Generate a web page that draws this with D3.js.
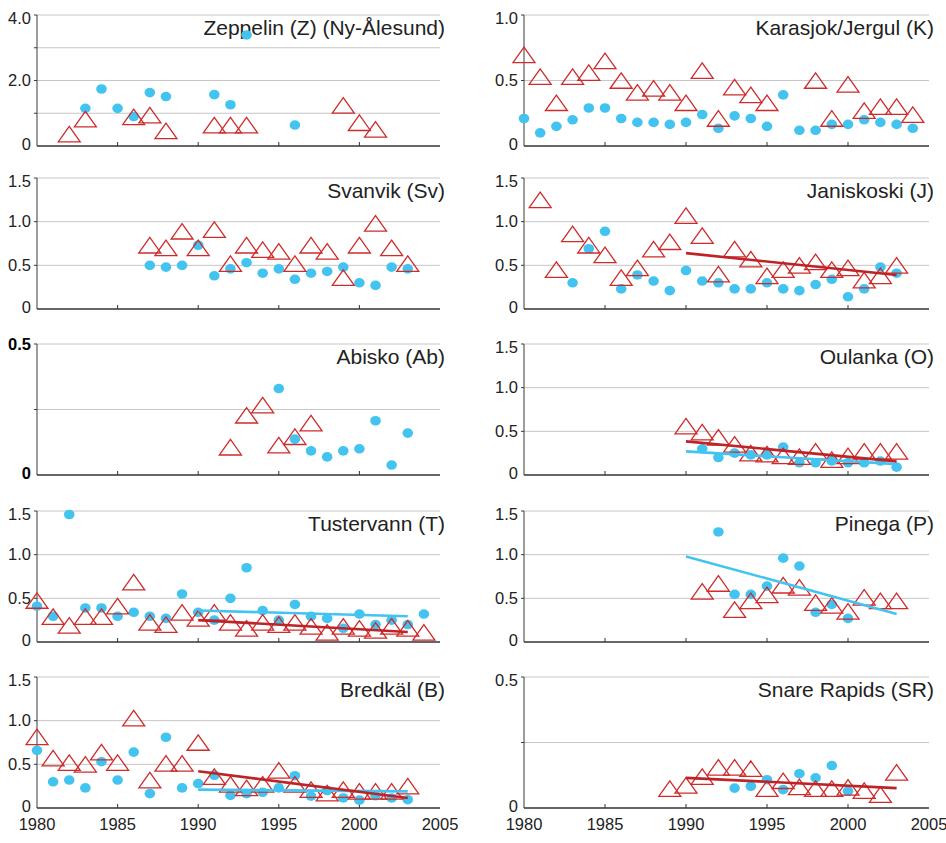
<!DOCTYPE html>
<html>
<head>
<meta charset="utf-8">
<script src="https://cdn.jsdelivr.net/npm/d3@7"></script>
<style>
  body { margin: 0; background: #fff; }
  svg text { font-family: "Liberation Sans", Arial, sans-serif; fill: #222; }
</style>
</head>
<body>
<div id="chart"></div>
<script>
// ---- data: [year, value] pairs ----
const xTickYears = [1980, 1985, 1990, 1995, 2000, 2005];

const zeppelinCircles = [[1983, 1.15], [1984, 1.74], [1985, 1.15], [1986, 0.9], [1987, 1.63], [1988, 1.51],
  [1991, 1.57], [1992, 1.26], [1993, 3.39], [1996, 0.64]];
const zeppelinTriangles = [[1982, 0.36], [1983, 0.82], [1986, 0.89], [1987, 0.94], [1988, 0.46],
  [1991, 0.64], [1992, 0.64], [1993, 0.64], [1999, 1.24], [2000, 0.71], [2001, 0.51]];

const karasjokCircles = [[1980, 0.21], [1981, 0.10], [1982, 0.15], [1983, 0.20], [1984, 0.29], [1985, 0.29],
  [1986, 0.21], [1987, 0.18], [1988, 0.18], [1989, 0.165], [1990, 0.18], [1991, 0.24], [1992, 0.135],
  [1993, 0.23], [1994, 0.21], [1995, 0.15], [1996, 0.39], [1997, 0.12], [1998, 0.12], [1999, 0.165],
  [2000, 0.165], [2001, 0.20], [2002, 0.18], [2003, 0.165], [2004, 0.135]];
const karasjokTriangles = [[1980, 0.695], [1981, 0.53], [1982, 0.33], [1983, 0.53], [1984, 0.56], [1985, 0.65],
  [1986, 0.50], [1987, 0.41], [1988, 0.44], [1989, 0.41], [1990, 0.33], [1991, 0.575], [1992, 0.21],
  [1993, 0.45], [1994, 0.39], [1995, 0.33], [1998, 0.50], [1999, 0.21], [2000, 0.47], [2001, 0.27],
  [2002, 0.30], [2003, 0.30], [2004, 0.24]];

const svanvikCircles = [[1987, 0.50], [1988, 0.48], [1989, 0.50], [1990, 0.73], [1991, 0.38], [1992, 0.46],
  [1993, 0.53], [1994, 0.41], [1995, 0.46], [1996, 0.34], [1997, 0.41], [1998, 0.43], [1999, 0.48],
  [2000, 0.30], [2001, 0.27], [2002, 0.48], [2003, 0.46]];
const svanvikTriangles = [[1987, 0.73], [1988, 0.70], [1989, 0.89], [1990, 0.70], [1991, 0.91], [1992, 0.52],
  [1993, 0.73], [1994, 0.68], [1995, 0.66], [1996, 0.52], [1997, 0.73], [1998, 0.66], [1999, 0.36],
  [2000, 0.73], [2001, 0.98], [2002, 0.70], [2003, 0.52]];

const janiskoskiCircles = [[1983, 0.30], [1984, 0.69], [1985, 0.89], [1986, 0.23], [1987, 0.39], [1988, 0.32],
  [1989, 0.21], [1990, 0.44], [1991, 0.32], [1992, 0.30], [1993, 0.23], [1994, 0.23], [1995, 0.30],
  [1996, 0.23], [1997, 0.21], [1998, 0.28], [1999, 0.34], [2000, 0.14], [2001, 0.23], [2002, 0.48], [2003, 0.41]];
const janiskoskiTriangles = [[1981, 1.25], [1982, 0.45], [1983, 0.86], [1984, 0.73], [1985, 0.62], [1986, 0.36],
  [1987, 0.47], [1988, 0.685], [1989, 0.77], [1990, 1.07], [1991, 0.84], [1992, 0.40], [1993, 0.685],
  [1994, 0.57], [1995, 0.38], [1996, 0.45], [1997, 0.50], [1998, 0.54], [1999, 0.45], [2000, 0.47],
  [2001, 0.33], [2002, 0.38], [2003, 0.50]];
const janiskoskiRedTrend = [[1990, 0.64], [2003, 0.39]];

const abiskoCircles = [[1995, 0.33], [1996, 0.137], [1997, 0.092], [1998, 0.069], [1999, 0.092], [2000, 0.10],
  [2001, 0.207], [2002, 0.038], [2003, 0.16]];
const abiskoTriangles = [[1992, 0.106], [1993, 0.228], [1994, 0.267], [1995, 0.114], [1996, 0.146], [1997, 0.198]];

const oulankaCircles = [[1991, 0.30], [1992, 0.20], [1993, 0.25], [1994, 0.23], [1995, 0.23], [1996, 0.32],
  [1997, 0.14], [1998, 0.14], [1999, 0.16], [2000, 0.14], [2001, 0.14], [2002, 0.16], [2003, 0.09]];
const oulankaTriangles = [[1990, 0.56], [1991, 0.49], [1992, 0.43], [1993, 0.35], [1994, 0.25], [1995, 0.24],
  [1996, 0.22], [1997, 0.21], [1998, 0.27], [1999, 0.175], [2000, 0.22], [2001, 0.27], [2002, 0.27], [2003, 0.27]];
const oulankaRedTrend = [[1990, 0.385], [2003, 0.156]];
const oulankaBlueTrend = [[1990, 0.27], [2003, 0.125]];

const tustervannCircles = [[1980, 0.41], [1981, 0.295], [1982, 1.46], [1983, 0.39], [1984, 0.39], [1985, 0.295],
  [1986, 0.34], [1987, 0.295], [1988, 0.27], [1989, 0.55], [1990, 0.34], [1991, 0.25], [1992, 0.50],
  [1993, 0.85], [1994, 0.36], [1995, 0.25], [1996, 0.43], [1997, 0.295], [1998, 0.27], [1999, 0.157],
  [2000, 0.32], [2001, 0.20], [2002, 0.25], [2003, 0.20], [2004, 0.32]];
const tustervannTriangles = [[1980, 0.475], [1981, 0.29], [1982, 0.19], [1983, 0.29], [1984, 0.29], [1985, 0.41],
  [1986, 0.685], [1987, 0.225], [1988, 0.20], [1989, 0.34], [1990, 0.27], [1991, 0.34], [1992, 0.225],
  [1993, 0.157], [1994, 0.225], [1995, 0.20], [1996, 0.225], [1997, 0.18], [1998, 0.11], [1999, 0.18],
  [2000, 0.157], [2001, 0.134], [2002, 0.18], [2003, 0.157], [2004, 0.11]];
const tustervannRedTrend = [[1990, 0.25], [2003, 0.115]];
const tustervannBlueTrend = [[1990, 0.36], [2003, 0.295]];

const pinegaCircles = [[1992, 1.26], [1993, 0.545], [1994, 0.545], [1995, 0.64], [1996, 0.96], [1997, 0.87],
  [1998, 0.34], [1999, 0.43], [2000, 0.27]];
const pinegaTriangles = [[1991, 0.58], [1992, 0.67], [1993, 0.37], [1994, 0.47], [1995, 0.54], [1996, 0.65],
  [1997, 0.625], [1998, 0.45], [1999, 0.42], [2000, 0.35], [2001, 0.51], [2002, 0.47], [2003, 0.47]];
const pinegaBlueTrend = [[1990, 0.98], [2003, 0.32]];

const bredkalCircles = [[1980, 0.66], [1981, 0.30], [1982, 0.32], [1983, 0.23], [1984, 0.53], [1985, 0.32],
  [1986, 0.64], [1987, 0.165], [1988, 0.81], [1989, 0.23], [1990, 0.28], [1991, 0.375], [1992, 0.145],
  [1993, 0.165], [1994, 0.18], [1995, 0.23], [1996, 0.37], [1997, 0.135], [1998, 0.20], [1999, 0.115],
  [2000, 0.09], [2001, 0.14], [2002, 0.115], [2003, 0.095]];
const bredkalTriangles = [[1980, 0.815], [1981, 0.57], [1982, 0.52], [1983, 0.50], [1984, 0.64], [1985, 0.52],
  [1986, 1.03], [1987, 0.32], [1988, 0.51], [1989, 0.51], [1990, 0.75], [1991, 0.36], [1992, 0.27],
  [1993, 0.23], [1994, 0.27], [1995, 0.43], [1996, 0.27], [1997, 0.21], [1998, 0.17], [1999, 0.21],
  [2000, 0.19], [2001, 0.19], [2002, 0.19], [2003, 0.25]];
const bredkalRedTrend = [[1990, 0.42], [2003, 0.115]];
const bredkalBlueTrend = [[1990, 0.21], [2003, 0.19]];

const snareCircles = [[1993, 0.076], [1994, 0.083], [1995, 0.108], [1996, 0.07], [1997, 0.131], [1998, 0.115],
  [1999, 0.162], [2000, 0.064]];
const snareTriangles = [[1989, 0.074], [1990, 0.086], [1991, 0.12], [1992, 0.155], [1993, 0.155], [1994, 0.15],
  [1995, 0.074], [1996, 0.104], [1997, 0.081], [1998, 0.074], [1999, 0.074], [2000, 0.079], [2001, 0.066],
  [2002, 0.051], [2003, 0.136]];
const snareRedTrend = [[1990, 0.115], [2003, 0.076]];

// ---- layout ----
const WIDTH = 946;
const HEIGHT = 843;
const COLUMNS = [{ left: 37, right: 440 }, { left: 524, right: 929 }];
const ROW_TOPS = [15, 178, 344, 511, 677];
const PANEL_HEIGHT = 131;

const BLUE = "#43c4f0";
const RED = "#cf2b2b";
const RED_TREND = "#bd2327";

const panels = [
  { title: "Zeppelin (Z) (Ny-Ålesund)", col: 0, row: 0, yMax: 4, grid: [1, 2, 3, 4], labels: [0, 2, 4],
    circles: zeppelinCircles, triangles: zeppelinTriangles },
  { title: "Karasjok/Jergul (K)", col: 1, row: 0, yMax: 1, grid: [0.5, 1], labels: [0, 0.5, 1],
    circles: karasjokCircles, triangles: karasjokTriangles },
  { title: "Svanvik (Sv)", col: 0, row: 1, yMax: 1.5, grid: [0.5, 1, 1.5], labels: [0, 0.5, 1, 1.5],
    circles: svanvikCircles, triangles: svanvikTriangles },
  { title: "Janiskoski (J)", col: 1, row: 1, yMax: 1.5, grid: [0.5, 1, 1.5], labels: [0, 0.5, 1, 1.5],
    circles: janiskoskiCircles, triangles: janiskoskiTriangles, redTrend: janiskoskiRedTrend },
  { title: "Abisko (Ab)", col: 0, row: 2, yMax: 0.5, grid: [0.25, 0.5], labels: [0, 0.5], boldLabels: true,
    circles: abiskoCircles, triangles: abiskoTriangles },
  { title: "Oulanka (O)", col: 1, row: 2, yMax: 1.5, grid: [0.5, 1, 1.5], labels: [0, 0.5, 1, 1.5],
    circles: oulankaCircles, triangles: oulankaTriangles, redTrend: oulankaRedTrend, blueTrend: oulankaBlueTrend },
  { title: "Tustervann (T)", col: 0, row: 3, yMax: 1.5, grid: [0.5, 1, 1.5], labels: [0, 0.5, 1, 1.5],
    circles: tustervannCircles, triangles: tustervannTriangles, redTrend: tustervannRedTrend, blueTrend: tustervannBlueTrend },
  { title: "Pinega (P)", col: 1, row: 3, yMax: 1.5, grid: [0.5, 1, 1.5], labels: [0, 0.5, 1, 1.5],
    circles: pinegaCircles, triangles: pinegaTriangles, blueTrend: pinegaBlueTrend },
  { title: "Bredkäl (B)", col: 0, row: 4, yMax: 1.5, grid: [0.5, 1, 1.5], labels: [0, 0.5, 1, 1.5],
    circles: bredkalCircles, triangles: bredkalTriangles, redTrend: bredkalRedTrend, blueTrend: bredkalBlueTrend },
  { title: "Snare Rapids (SR)", col: 1, row: 4, yMax: 0.5, grid: [0.25, 0.5], labels: [0, 0.5],
    circles: snareCircles, triangles: snareTriangles, redTrend: snareRedTrend }
];

const svg = d3.select("#chart")
  .append("svg")
  .attr("width", WIDTH)
  .attr("height", HEIGHT);

const lastRow = d3.max(panels, (p) => p.row);
const fmt = (v) => (v === 0 ? "0" : d3.format(".1f")(v));

function trianglePath(cx, cy) {
  const hw = 11, hh = 7.75;
  return `M${cx - hw},${cy + hh}L${cx},${cy - hh}L${cx + hw},${cy + hh}Z`;
}

panels.forEach((p) => {
  const c = COLUMNS[p.col];
  const top = ROW_TOPS[p.row];
  const bottom = top + PANEL_HEIGHT;

  const x = d3.scaleLinear().domain([1980, 2005]).range([c.left, c.right]);
  const y = d3.scaleLinear().domain([0, p.yMax]).range([bottom, top]);

  const g = svg.append("g").attr("class", "panel");

  // gridlines
  g.selectAll(".grid")
    .data(p.grid)
    .join("line")
    .attr("x1", c.left)
    .attr("x2", c.right)
    .attr("y1", (d) => y(d))
    .attr("y2", (d) => y(d))
    .attr("stroke", "#c6c6c6")
    .attr("stroke-width", 1);

  // y axis + small outward ticks
  g.append("line")
    .attr("x1", c.left).attr("x2", c.left)
    .attr("y1", top).attr("y2", bottom)
    .attr("stroke", "#3a3a3a").attr("stroke-width", 1);

  g.selectAll(".ytick")
    .data(p.grid)
    .join("line")
    .attr("x1", c.left - 3).attr("x2", c.left)
    .attr("y1", (d) => y(d)).attr("y2", (d) => y(d))
    .attr("stroke", "#3a3a3a").attr("stroke-width", 1);

  g.selectAll(".ylabel")
    .data(p.labels)
    .join("text")
    .attr("x", c.left - 6)
    .attr("y", (d) => {
      let off = 0;
      if (d === p.yMax && !p.boldLabels) off = 3;
      if (d === 0) off = -2;
      return y(d) + off;
    })
    .attr("dy", "0.35em")
    .attr("text-anchor", "end")
    .attr("font-size", 16.5)
    .attr("font-weight", p.boldLabels ? "bold" : "normal")
    .style("fill", p.boldLabels ? "#000" : null)
    .text(fmt);

  // x axis with upward inner ticks
  g.append("line")
    .attr("x1", c.left).attr("x2", c.right)
    .attr("y1", bottom).attr("y2", bottom)
    .attr("stroke", "#333").attr("stroke-width", 1.5);

  g.selectAll(".xtick")
    .data(xTickYears.slice(1, -1))
    .join("line")
    .attr("x1", (d) => x(d)).attr("x2", (d) => x(d))
    .attr("y1", bottom).attr("y2", bottom - 4)
    .attr("stroke", "#333").attr("stroke-width", 1);

  if (p.row === lastRow) {
    g.selectAll(".xlabel")
      .data(xTickYears)
      .join("text")
      .attr("x", (d) => x(d))
      .attr("y", bottom + 22)
      .attr("text-anchor", "middle")
      .attr("font-size", 16.5)
      .text((d) => d);
  }

  // title
  g.append("text")
    .attr("x", c.right + 5)
    .attr("y", top + 20)
    .attr("text-anchor", "end")
    .attr("font-size", 21)
    .text(p.title);

  // circles
  g.selectAll(".dot")
    .data(p.circles)
    .join("ellipse")
    .attr("cx", (d) => x(d[0]))
    .attr("cy", (d) => y(d[1]))
    .attr("rx", 5.3)
    .attr("ry", 4.8)
    .attr("fill", BLUE);

  // triangles
  g.selectAll(".tri")
    .data(p.triangles)
    .join("path")
    .attr("d", (d) => trianglePath(x(d[0]), y(d[1])))
    .attr("fill", "none")
    .attr("stroke", RED)
    .attr("stroke-width", 1.3);

  // trend lines
  const line = d3.line().x((d) => x(d[0])).y((d) => y(d[1]));
  if (p.blueTrend) {
    g.append("path")
      .attr("d", line(p.blueTrend))
      .attr("fill", "none")
      .attr("stroke", BLUE)
      .attr("stroke-width", 2.6);
  }
  if (p.redTrend) {
    g.append("path")
      .attr("d", line(p.redTrend))
      .attr("fill", "none")
      .attr("stroke", RED_TREND)
      .attr("stroke-width", 2.6);
  }
});
</script>
</body>
</html>
